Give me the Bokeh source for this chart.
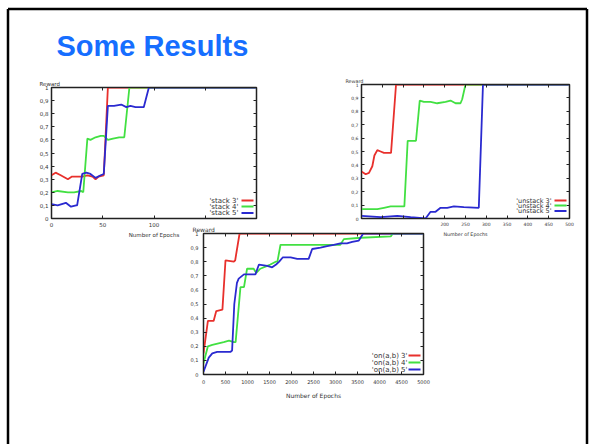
from bokeh.plotting import figure
from bokeh.models import (GridBox, Column, Range1d, FixedTicker, Label, LinearAxis,
                          CustomJSTickFormatter, BoxAnnotation)
from bokeh.embed import file_html
from bokeh.resources import INLINE

TITLE = "Some Results"
X_LABEL = "Number of Epochs"
Y_LABEL = "Reward"
reward_ticks = [0, 0.1, 0.2, 0.3, 0.4, 0.5, 0.6, 0.7, 0.8, 0.9, 1.0]

# ---- plot 1: stack ----
stack_x_ticks = [0, 50, 100, 150, 200]
stack3_x = [0, 4, 9, 16, 20, 25, 30, 35, 40, 43, 46, 51, 55, 200]
stack3_y = [0.33, 0.35, 0.33, 0.30, 0.32, 0.32, 0.32, 0.33, 0.32, 0.30, 0.32, 0.33, 1, 1]
stack4_x = [0, 6, 16, 22, 29, 31, 35, 38, 43, 48, 51, 55, 60, 66, 71, 76, 200]
stack4_y = [0.20, 0.21, 0.20, 0.20, 0.21, 0.20, 0.61, 0.60, 0.62, 0.63, 0.63, 0.60, 0.61, 0.62, 0.62, 1, 1]
stack5_x = [0, 6, 14, 19, 24, 25, 30, 34, 38, 43, 48, 51, 55, 61, 68, 73, 77, 82, 90, 95, 200]
stack5_y = [0.11, 0.10, 0.12, 0.09, 0.10, 0.10, 0.34, 0.35, 0.34, 0.31, 0.33, 0.34, 0.86, 0.86, 0.87, 0.85, 0.86, 0.85, 0.85, 1, 1]

# ---- plot 2: unstack ----
unstack_x_ticks = [0, 50, 100, 150, 200, 250, 300, 350, 400, 450, 500]
unstack3_x = [0, 10, 18, 26, 31, 38, 46, 54, 63, 71, 83, 500]
unstack3_y = [0.35, 0.33, 0.34, 0.39, 0.47, 0.51, 0.50, 0.49, 0.49, 0.49, 1, 1]
unstack4_x = [0, 38, 54, 70, 86, 103, 111, 131, 140, 150, 166, 182, 202, 214, 226, 238, 242, 250, 500]
unstack4_y = [0.07, 0.07, 0.08, 0.09, 0.09, 0.09, 0.58, 0.58, 0.88, 0.87, 0.87, 0.86, 0.87, 0.88, 0.86, 0.86, 0.89, 1, 1]
unstack5_x = [0, 46, 86, 118, 154, 166, 178, 190, 206, 222, 246, 282, 292, 500]
unstack5_y = [0.02, 0.01, 0.02, 0.01, 0.0, 0.05, 0.05, 0.08, 0.08, 0.09, 0.085, 0.08, 1, 1]

# ---- plot 3: on(a,b) ----
on_x_ticks = [0, 500, 1000, 1500, 2000, 2500, 3000, 3500, 4000, 4500, 5000]
on3_x = [0, 100, 230, 290, 430, 500, 690, 720, 820, 5000]
on3_y = [0.15, 0.38, 0.38, 0.45, 0.46, 0.81, 0.80, 0.81, 1, 1]
on4_x = [0, 100, 200, 460, 580, 690, 730, 840, 920, 990, 1140, 1200, 1290, 1450, 1520,
         1640, 1680, 1750, 2650, 3110, 3190, 3580, 4260, 4300, 5000]
on4_y = [0.08, 0.20, 0.21, 0.23, 0.24, 0.23, 0.23, 0.62, 0.62, 0.75, 0.75, 0.72, 0.75, 0.77, 0.78,
         0.80, 0.80, 0.92, 0.92, 0.92, 0.96, 0.97, 0.98, 1, 1]
on5_x = [0, 120, 200, 310, 610, 650, 700, 760, 800, 920, 1030, 1180, 1260, 1450, 1560, 1650,
         1720, 1800, 1980, 2130, 2390, 2470, 2660, 2810, 2960, 3110, 3260, 3380, 3530, 3630, 5000]
on5_y = [0.02, 0.12, 0.15, 0.16, 0.16, 0.17, 0.50, 0.65, 0.68, 0.71, 0.71, 0.71, 0.78, 0.77, 0.76, 0.78,
         0.80, 0.83, 0.83, 0.82, 0.82, 0.89, 0.90, 0.91, 0.92, 0.93, 0.93, 0.94, 0.95, 1, 1]

RED, GREEN, BLUE = "#e8302c", "#42e042", "#2a2ad0"
INK = "#333333"
FONT = "DejaVu Sans"

y_fmt = CustomJSTickFormatter(code="""
if (Math.abs(tick) < 1e-9) return '0';
if (Math.abs(tick - 1) < 1e-9) return '1';
return tick.toFixed(1).replace('.', ',');
""")
blank_fmt = CustomJSTickFormatter(code="return '';")


def make_plot(x_max, x_ticks, series, fw, fh, borders, tick_px, label_px, legend_px,
              reward_dx, legend_rows, text_gap, tick_standoff, label_standoff):
    L, R, T, B = borders
    p = figure(frame_width=fw, frame_height=fh,
               x_range=Range1d(0, x_max), y_range=Range1d(0, 1),
               output_backend="svg", toolbar_location=None,
               min_border_left=L, min_border_right=R, min_border_top=T, min_border_bottom=B,
               background_fill_color="white", border_fill_color="white")
    p.grid.visible = False
    p.outline_line_color = "#222222"
    p.outline_line_width = 1.5
    p.xaxis.ticker = FixedTicker(ticks=x_ticks)
    p.yaxis.ticker = FixedTicker(ticks=reward_ticks)
    p.yaxis.formatter = y_fmt
    p.xaxis.axis_label = X_LABEL
    p.xaxis.axis_label_text_font_size = label_px
    p.xaxis.axis_label_text_font = FONT
    p.xaxis.axis_label_text_font_style = "normal"
    p.xaxis.axis_label_text_color = INK
    p.xaxis.axis_label_standoff = label_standoff
    right = LinearAxis(ticker=FixedTicker(ticks=reward_ticks), formatter=blank_fmt)
    top = LinearAxis(ticker=FixedTicker(ticks=x_ticks), formatter=blank_fmt)
    p.add_layout(right, "right")
    p.add_layout(top, "above")
    for ax in p.axis:
        ax.major_tick_in = 3
        ax.major_tick_out = 0
        ax.minor_tick_line_color = None
        ax.axis_line_color = "#222222"
        ax.major_tick_line_color = "#222222"
        ax.major_label_text_font_size = tick_px
        ax.major_label_text_font = FONT
        ax.major_label_text_color = INK
        ax.major_label_standoff = tick_standoff
    right.major_label_standoff = 0
    top.major_label_standoff = 0
    top.major_label_text_font_size = "2px"

    p.title.text = Y_LABEL
    p.title.align = "left"
    p.title.offset = reward_dx
    p.title.standoff = 2
    p.title.text_font = FONT
    p.title.text_font_size = label_px
    p.title.text_font_style = "normal"
    p.title.text_color = INK

    for (name, xs, ys, color), ry in zip(series, legend_rows):
        p.line(xs, ys, line_color=color, line_width=1.8)
        p.add_layout(Label(x=fw - text_gap, y=ry, x_units="screen", y_units="screen",
                           text=name, text_align="right", text_baseline="middle",
                           text_font=FONT, text_font_size=legend_px, text_color=INK))
        p.add_layout(BoxAnnotation(left=fw - 15, right=fw - 3, bottom=ry - 0.9, top=ry + 0.9,
                                   left_units="screen", right_units="screen",
                                   bottom_units="screen", top_units="screen",
                                   fill_color=color, fill_alpha=1.0, line_alpha=0))
    return p


p1 = make_plot(200, stack_x_ticks,
               [("'stack 3'", stack3_x, stack3_y, RED),
                ("'stack 4'", stack4_x, stack4_y, GREEN),
                ("'stack 5'", stack5_x, stack5_y, BLUE)],
               205, 131, (28, 8, 12, 28), "5.5px", "5.5px", "7px", -12, [18, 12, 5.5], 18, 3, 2)
p2 = make_plot(500, unstack_x_ticks,
               [("'unstack 3'", unstack3_x, unstack3_y, RED),
                ("'unstack 4'", unstack4_x, unstack4_y, GREEN),
                ("'unstack 5'", unstack5_x, unstack5_y, BLUE)],
               208, 134, (22, 8, 12, 28), "4.5px", "4.8px", "6.5px", -16, [18, 13, 7.5], 18, 3, 3)
p3 = make_plot(5000, on_x_ticks,
               [("'on(a,b) 3'", on3_x, on3_y, RED),
                ("'on(a,b) 4'", on4_x, on4_y, GREEN),
                ("'on(a,b) 5'", on5_x, on5_y, BLUE)],
               220, 141, (21, 8, 12, 30), "5px", "6px", "7px", -11, [19, 12, 5], 16, 5, 5)

# ---- page (slide) ----
page = figure(frame_width=594, frame_height=444, x_range=Range1d(0, 594), y_range=Range1d(444, 0),
              min_border=0, output_backend="svg", toolbar_location=None,
              background_fill_color="white", border_fill_color="white")
page.axis.visible = False
page.grid.visible = False
page.outline_line_color = None
page.line([7.5, 7.5], [444, 8.5], line_color="black", line_width=2.5)
page.line([7.5, 586.5], [8.5, 8.5], line_color="black", line_width=2.5)
page.line([586.5, 586.5], [8.5, 444], line_color="black", line_width=2.5)
page.add_layout(Label(x=56, y=45, text=TITLE, text_font="Liberation Sans",
                      text_font_style="bold", text_font_size="29px",
                      text_color="#166EFF", text_baseline="alphabetic"))

c0 = Column(page, margin=0)
c1 = Column(p1, margin=(75, 0, 0, 23))
c2 = Column(p2, margin=(72, 0, 0, 339))
c3 = Column(p3, margin=(221, 0, 0, 182))

grid = GridBox(children=[(c0, 0, 0), (c1, 0, 0), (c2, 0, 0), (c3, 0, 0)])

open("out.html", "w").write(file_html(grid, INLINE))
